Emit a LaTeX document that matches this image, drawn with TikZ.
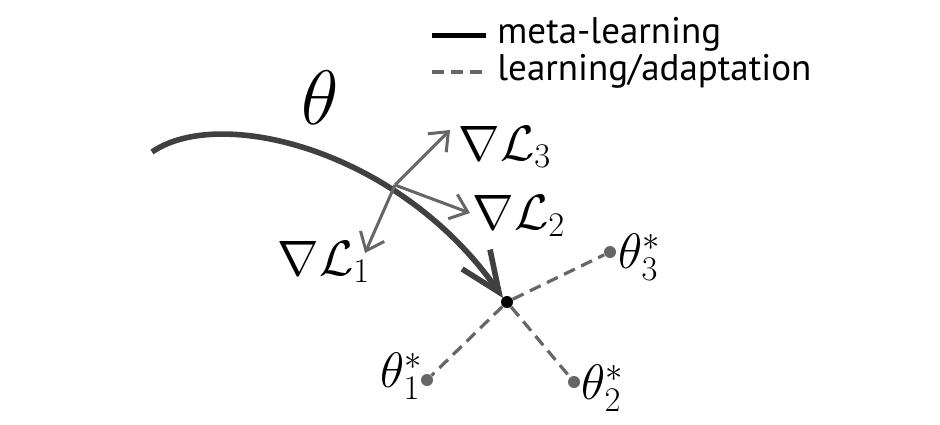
\documentclass[tikz,border=0pt]{standalone}
\usepackage{amsmath}
\usepackage{fontspec}
\setsansfont{PT Sans}
\usetikzlibrary{arrows.meta}

\begin{document}
\begin{tikzpicture}[x=0.5pt,y=-0.5pt,
	meta/.style={line width=2.8pt,draw=black!75},
	grad/.style={line width=1.5pt,draw=black!60,-{Straight Barb[length=8pt,width=13pt,line width=1.5pt]}},
	adapt/.style={line width=1.6pt,draw=black!60,dash pattern=on 6pt off 3.5pt},
	opt/.style={circle,fill=black!60,inner sep=0pt,minimum size=6pt},
	lbl/.style={font=\fontsize{23}{27}\selectfont},
	legend/.style={font=\sffamily\fontsize{18.5}{22}\selectfont,anchor=base west,inner sep=0pt}]
	
	\useasboundingbox (0,0) rectangle (940,424);
	
	% legend
	\coordinate (m1) at (432,35);
	\coordinate (m2) at (486,35);
	\coordinate (a1) at (432,72);
	\coordinate (a2) at (486,72);
	\draw[line width=2.5pt,black] (m1) -- (m2);
	\draw[adapt] (a1) -- (a2);
	\node[legend] (lm) at (497,43) {meta-learning};
	\node[legend] (la) at (497,80) {learning/adaptation};
	
	% meta-learning path
	\coordinate (s) at (152,152);
	\coordinate (c) at (395,185);
	\coordinate (tip) at (503,298);
	\node[circle,fill=black,inner sep=0pt,minimum size=6pt] (t) at (507,302) {};
	\node[lbl,scale=1.55] (theta) at (320,98) {$\theta$};
	\draw[meta,-{Straight Barb[length=20pt,width=17pt,line width=2.8pt]}]
		(s) .. controls (220,105) and (400,150) .. (tip);
	
	% task gradients
	\coordinate (g1) at (365,253);
	\coordinate (g2) at (470,213);
	\coordinate (g3) at (450,130);
	\draw[grad] (c) -- (g1);
	\draw[grad] (c) -- (g2);
	\draw[grad] (c) -- (g3);
	\node[lbl] (l1) at (324,262) {$\nabla\mathcal{L}_1$};
	\node[lbl] (l2) at (519,216) {$\nabla\mathcal{L}_2$};
	\node[lbl] (l3) at (505,147) {$\nabla\mathcal{L}_3$};
	
	% task optima
	\node[opt] (o1) at (427,380) {};
	\node[opt] (o2) at (574,382) {};
	\node[opt] (o3) at (610,252) {};
	\draw[adapt] (t) -- (o1);
	\draw[adapt] (t) -- (o2);
	\draw[adapt] (t) -- (o3);
	\node[lbl] (p1) at (402,376) {$\theta_1^*$};
	\node[lbl] (p2) at (603,388) {$\theta_2^*$};
	\node[lbl] (p3) at (640,257) {$\theta_3^*$};
	
\end{tikzpicture}
\end{document}
